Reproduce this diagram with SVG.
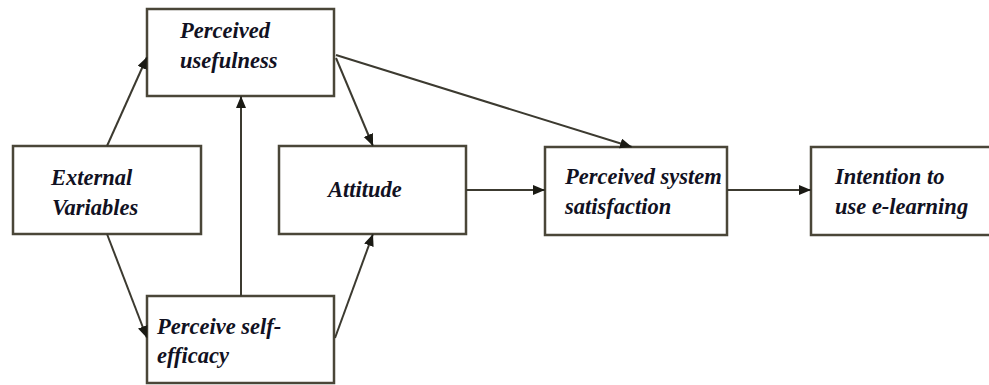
<svg xmlns="http://www.w3.org/2000/svg" width="989" height="385" viewBox="0 0 989 385">
<style>
.box{fill:#fff;stroke:#4a4638;stroke-width:2.5}
.lbl{font-family:"Liberation Serif","Times New Roman",serif;font-style:italic;font-weight:bold;font-size:22.5px;fill:#111122}
.conn line{stroke:#3c3a30;stroke-width:2}
</style>
<defs>
<marker id="ah" markerUnits="userSpaceOnUse" markerWidth="14" markerHeight="12" refX="12" refY="5" orient="auto">
<path d="M0,0 L12,5 L0,10 Z" fill="#1a1a14"/>
</marker>
</defs>
<rect width="989" height="385" fill="#fff"/>
<g id="pu">
<rect class="box" x="147" y="9" width="187" height="87"/>
<text class="lbl" x="180" y="38">Perceived</text>
<text class="lbl" x="180" y="68">usefulness</text>
</g>
<g id="ev">
<rect class="box" x="13" y="146" width="188" height="88"/>
<text class="lbl" x="51" y="185">External</text>
<text class="lbl" x="52" y="215">Variables</text>
</g>
<g id="att">
<rect class="box" x="279" y="146" width="187" height="88"/>
<text class="lbl" x="328" y="197">Attitude</text>
</g>
<g id="pss">
<rect class="box" x="545" y="147" width="182" height="88"/>
<text class="lbl" x="565" y="184">Perceived system</text>
<text class="lbl" x="565" y="214">satisfaction</text>
</g>
<g id="int">
<rect class="box" x="811" y="147" width="190" height="88"/>
<text class="lbl" x="835" y="184">Intention to</text>
<text class="lbl" x="835" y="214">use e-learning</text>
</g>
<g id="pse">
<rect class="box" x="147" y="296" width="187" height="87"/>
<text class="lbl" x="157" y="334">Perceive self-</text>
<text class="lbl" x="157" y="363">efficacy</text>
</g>
<g id="connectors" class="conn">
<line x1="107" y1="146" x2="147" y2="57" marker-end="url(#ah)"/>
<line x1="107" y1="234" x2="147" y2="338" marker-end="url(#ah)"/>
<line x1="241" y1="296" x2="241" y2="96" marker-end="url(#ah)"/>
<line x1="336" y1="58" x2="373" y2="146" marker-end="url(#ah)"/>
<line x1="336" y1="55" x2="632" y2="147" marker-end="url(#ah)"/>
<line x1="335" y1="338" x2="373" y2="234" marker-end="url(#ah)"/>
<line x1="466" y1="190" x2="545" y2="190" marker-end="url(#ah)"/>
<line x1="727" y1="190" x2="811" y2="190" marker-end="url(#ah)"/>
</g>
</svg>
